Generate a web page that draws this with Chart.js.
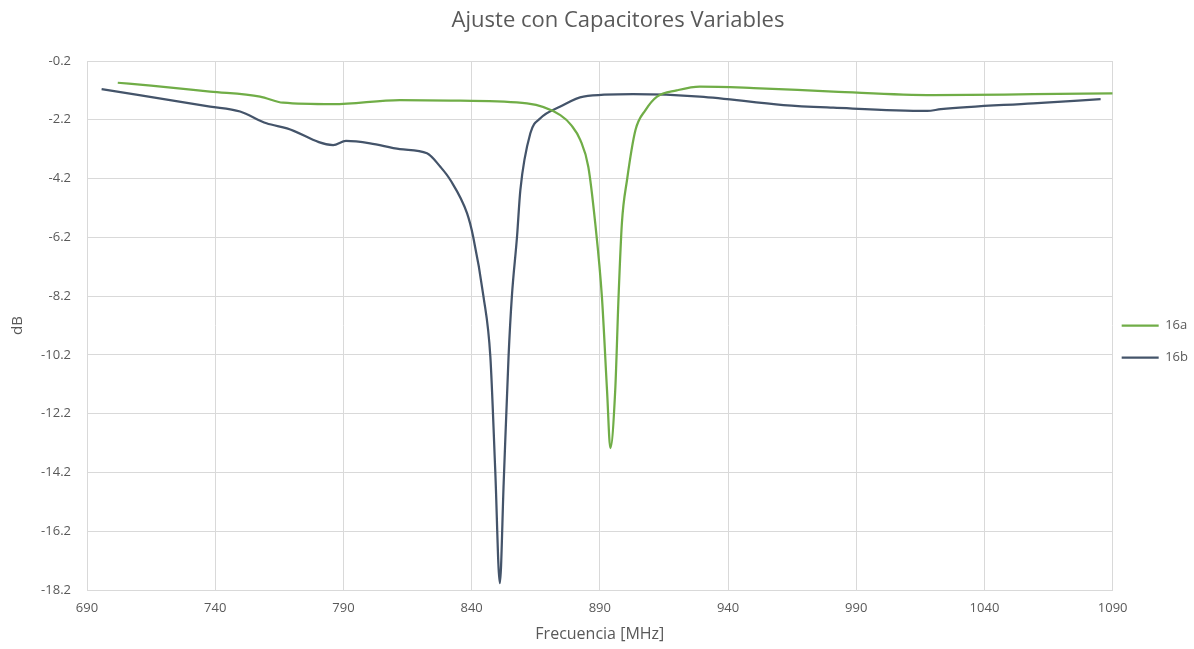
<!DOCTYPE html>
<html lang="es">
<head>
  <meta charset="UTF-8">
  <title>Ajuste con Capacitores Variables</title>
  <script src="https://cdn.jsdelivr.net/npm/chart.js"></script>
  <style>
    * {
      margin: 0;
      padding: 0;
      box-sizing: border-box;
    }
    body {
      background: #ffffff;
      font-family: 'Open Sans', sans-serif;
    }
    .wrap {
      width: 1194px;
      height: 649px;
    }
  </style>
</head>
<body>
  <div class="wrap">
    <canvas id="sweepChart" width="1194" height="649"></canvas>
  </div>

  <script>
    // series
    const freq16a = [702, 715, 738, 757.5, 766.5, 786, 812, 835.6, 861.6, 874.6, 879, 882.4, 885.5, 888.2,
      890.8, 892.8, 894.1, 896, 897.3, 898.6, 900.6, 903.9, 907.8, 912.3, 920, 929, 950, 981, 1020, 1059, 1090];
    const db16a = [-0.94, -1.04, -1.24, -1.41, -1.62, -1.67, -1.53, -1.55, -1.64, -2.04, -2.4, -2.89, -3.8, -5.72,
      -8.22, -11.4, -13.37, -11.4, -8.22, -5.72, -4.25, -2.55, -1.87, -1.41, -1.2, -1.07, -1.12, -1.24, -1.36, -1.33, -1.3];

    const freq16b = [695.7, 738, 749.7, 760, 768, 786, 791, 800.4, 812, 822.6, 827.8, 831.7, 838.2, 840.6,
      844.6, 847.3, 849.2, 851, 852.5, 854.4, 855.7, 857.7, 859, 862.9, 866.8, 874.6, 883.6, 903, 929,
      961.6, 981, 1017.7, 1023, 1059, 1085.3];
    const db16b = [-1.16, -1.75, -1.92, -2.32, -2.49, -3.06, -2.92, -3.0, -3.2, -3.34, -3.8, -4.25, -5.38, -6.18,
      -8.2, -10.26, -14.11, -17.97, -14.56, -10.26, -8.2, -6.18, -4.59, -2.66, -2.15, -1.75, -1.41, -1.33, -1.41,
      -1.7, -1.79, -1.9, -1.84, -1.64, -1.5];

    const seriesNames = ["16a", "16b"];
    const xMin = 690, xMax = 1090, xStep = 50;
    const yMin = -18.2, yMax = -0.2, yStep = 2;

    const toPoints = (xs, ys) => xs.map((x, i) => ({ x: x, y: ys[i] }));

    const textGray = '#595959';
    const gridGray = '#d9d9d9';

    // Excel puts the title a bit right of centre and the legend close to the plot
    const nudgeBoxes = {
      id: 'nudgeBoxes',
      afterLayout(chart) {
        if (chart.titleBlock) chart.titleBlock.left = 28;
        if (chart.legend) {
          chart.legend.left -= 10;
          chart.legend.right -= 10;
        }
      }
    };

    new Chart(document.getElementById('sweepChart'), {
      type: 'line',
      data: {
        datasets: [{
          label: seriesNames[0],
          data: toPoints(freq16a, db16a),
          borderColor: '#70ad47',
          backgroundColor: '#70ad47',
          borderWidth: 2.25,
          pointRadius: 0,
          cubicInterpolationMode: 'monotone',
          fill: false
        }, {
          label: seriesNames[1],
          data: toPoints(freq16b, db16b),
          borderColor: '#44546a',
          backgroundColor: '#44546a',
          borderWidth: 2.25,
          pointRadius: 0,
          cubicInterpolationMode: 'monotone',
          fill: false
        }]
      },
      plugins: [nudgeBoxes],
      options: {
        responsive: false,
        animation: false,
        layout: { padding: { left: 0, top: 0, bottom: 0, right: -14 } },
        plugins: {
          title: {
            display: true,
            text: 'Ajuste con Capacitores Variables',
            color: textGray,
            font: { family: 'Open Sans', size: 22, weight: 'normal' },
            padding: { top: 8, bottom: 26.6 }
          },
          legend: {
            position: 'right',
            title: { display: true, text: '', padding: 9.8, font: { size: 12 } },
            labels: {
              usePointStyle: true,
              pointStyle: 'line',
              pointStyleWidth: 37,
              padding: 19,
              color: textGray,
              font: { family: 'Open Sans', size: 13 }
            }
          },
          tooltip: { enabled: false }
        },
        scales: {
          x: {
            type: 'linear',
            min: xMin,
            max: xMax,
            afterFit: (scale) => { scale.height = 59; },
            ticks: {
              stepSize: xStep,
              padding: 10,
              color: textGray,
              font: { family: 'Open Sans', size: 13 },
              maxRotation: 0,
              callback: (v) => String(v)
            },
            grid: { color: gridGray, drawTicks: false },
            border: { color: gridGray },
            title: {
              display: true,
              text: 'Frecuencia [MHz]',
              color: textGray,
              font: { family: 'Open Sans', size: 16 },
              padding: { top: 0, bottom: 5.4 }
            }
          },
          y: {
            min: yMin,
            max: yMax,
            afterFit: (scale) => { scale.width = 87; },
            ticks: {
              stepSize: yStep,
              padding: 16,
              color: textGray,
              font: { family: 'Open Sans', size: 13 },
              callback: (v) => String(v)
            },
            grid: { color: gridGray, drawTicks: false },
            border: { color: gridGray },
            title: {
              display: true,
              text: 'dB',
              color: textGray,
              font: { family: 'Open Sans', size: 15 },
              padding: { top: 9, bottom: 0 }
            }
          }
        }
      }
    });
  </script>
</body>
</html>
